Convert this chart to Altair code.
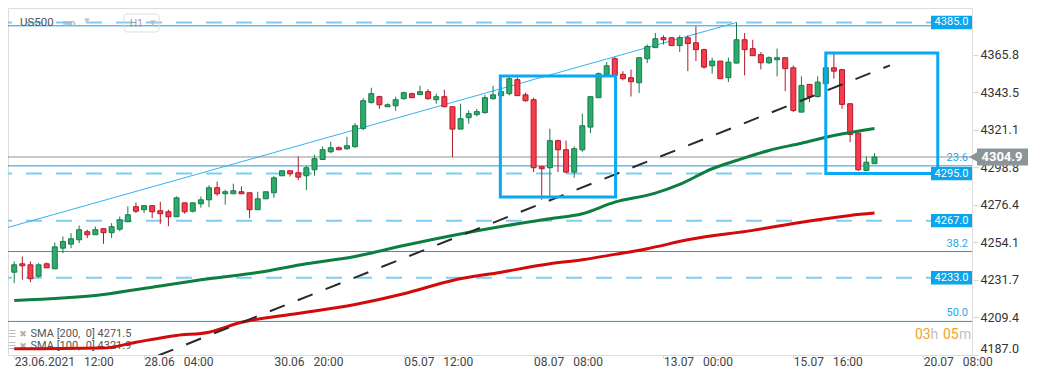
import altair as alt
import pandas as pd

# ---------------- data ----------------
opens = [4236.3, 4241.3, 4240.7, 4233.9, 4241.3, 4238.3, 4250.6, 4253.0, 4255.6, 4260.4,
         4258.6, 4262.2, 4259.8, 4261.9, 4266.3, 4275.3, 4273.5, 4275.9, 4272.9, 4272.3,
         4269.3, 4277.6, 4272.6, 4277.0, 4279.4, 4286.6, 4283.0, 4283.0, 4284.2, 4283.6,
         4273.5, 4280.0, 4283.6, 4293.7, 4296.7, 4295.5, 4293.7, 4297.3, 4303.4, 4308.0,
         4310.4, 4309.8, 4311.0, 4321.9, 4337.4, 4340.8, 4334.8, 4335.4, 4339.6, 4342.6,
         4342.0, 4343.8, 4339.0, 4340.8, 4334.8, 4321.5, 4328.3, 4330.1, 4331.3, 4339.6,
         4341.4, 4342.6, 4350.9, 4341.9, 4339.0, 4299.1, 4298.5, 4314.6, 4309.2, 4295.9,
         4309.2, 4322.7, 4340.2, 4353.9, 4363.4, 4354.1, 4352.1, 4349.1, 4363.4, 4370.0,
         4375.9, 4375.9, 4371.2, 4375.9, 4372.9, 4368.8, 4359.2, 4362.0, 4352.1, 4360.8,
         4374.7, 4369.4, 4365.8, 4361.0, 4362.8, 4364.0, 4358.0, 4331.6, 4348.1, 4340.9,
         4348.5, 4358.0, 4356.9, 4336.6, 4319.1, 4296.9, 4300.9]
highs = [4242.7, 4245.7, 4242.7, 4241.7, 4242.1, 4254.0, 4257.6, 4259.5, 4264.1, 4261.6,
         4263.5, 4262.2, 4265.5, 4269.5, 4275.5, 4277.8, 4275.9, 4275.9, 4278.2, 4273.5,
         4281.4, 4277.6, 4277.6, 4281.4, 4288.1, 4290.2, 4285.4, 4289.0, 4287.4, 4283.6,
         4284.2, 4284.2, 4293.5, 4296.7, 4296.7, 4305.2, 4299.7, 4306.2, 4311.2, 4314.0,
         4311.2, 4316.9, 4325.1, 4339.9, 4346.1, 4341.4, 4336.8, 4340.8, 4343.8, 4343.2,
         4347.3, 4345.3, 4342.6, 4344.9, 4334.8, 4336.6, 4332.6, 4333.6, 4341.9, 4347.3,
         4346.9, 4352.5, 4352.3, 4343.2, 4340.2, 4299.4, 4321.7, 4315.2, 4314.6, 4311.2,
         4330.7, 4340.8, 4355.2, 4361.4, 4364.4, 4356.0, 4356.9, 4364.0, 4371.9, 4378.7,
         4377.3, 4375.9, 4377.3, 4377.3, 4382.7, 4369.4, 4364.0, 4362.0, 4364.0, 4385.0,
         4378.7, 4374.7, 4367.4, 4364.8, 4369.4, 4364.0, 4359.4, 4352.9, 4348.1, 4352.9,
         4358.0, 4366.7, 4356.9, 4336.6, 4319.1, 4305.2, 4307.2]
lows = [4229.8, 4231.8, 4230.4, 4233.0, 4238.9, 4238.3, 4247.6, 4250.6, 4253.6, 4256.6,
        4258.6, 4253.2, 4256.6, 4260.7, 4266.3, 4271.5, 4271.5, 4268.5, 4265.1, 4263.7,
        4269.3, 4271.1, 4271.9, 4274.7, 4275.0, 4281.8, 4276.5, 4283.0, 4283.0, 4268.5,
        4273.5, 4280.0, 4280.6, 4293.7, 4293.3, 4291.1, 4285.2, 4293.7, 4303.4, 4307.2,
        4309.2, 4309.2, 4310.4, 4320.7, 4336.6, 4333.6, 4334.8, 4332.4, 4339.0, 4340.2,
        4342.0, 4339.0, 4336.6, 4334.8, 4304.8, 4321.5, 4324.7, 4329.1, 4330.7, 4339.0,
        4341.4, 4341.6, 4341.4, 4337.8, 4295.9, 4279.4, 4281.0, 4295.9, 4295.3, 4292.5,
        4308.0, 4319.1, 4340.2, 4353.5, 4353.5, 4350.5, 4340.9, 4342.9, 4360.8, 4370.0,
        4371.9, 4371.2, 4367.4, 4356.0, 4362.0, 4357.5, 4354.5, 4351.5, 4349.5, 4360.8,
        4353.5, 4365.2, 4357.0, 4360.3, 4352.9, 4344.1, 4331.6, 4331.6, 4337.6, 4340.2,
        4348.5, 4351.5, 4333.6, 4313.7, 4296.5, 4296.5, 4300.9]
closes = [4240.7, 4240.1, 4232.4, 4240.7, 4238.9, 4251.4, 4254.6, 4256.2, 4261.6, 4258.6,
          4261.6, 4259.8, 4263.4, 4267.5, 4270.5, 4272.6, 4275.9, 4272.3, 4271.1, 4269.3,
          4280.6, 4272.3, 4277.6, 4279.4, 4286.6, 4283.0, 4284.2, 4284.8, 4283.0, 4273.5,
          4280.0, 4284.2, 4292.5, 4296.7, 4294.9, 4292.9, 4298.5, 4303.9, 4309.2, 4310.4,
          4309.2, 4311.6, 4323.5, 4338.4, 4342.6, 4336.0, 4336.0, 4339.0, 4343.2, 4340.2,
          4343.8, 4339.6, 4340.8, 4334.8, 4321.5, 4327.7, 4330.7, 4331.9, 4340.2, 4341.9,
          4343.8, 4351.5, 4341.4, 4338.4, 4298.5, 4297.9, 4314.6, 4309.2, 4295.9, 4309.8,
          4323.5, 4340.8, 4354.5, 4359.2, 4353.5, 4351.5, 4349.7, 4364.0, 4370.7, 4375.3,
          4374.7, 4371.2, 4375.9, 4372.4, 4368.8, 4358.4, 4362.0, 4351.5, 4361.4, 4374.7,
          4368.8, 4365.2, 4361.0, 4364.0, 4364.0, 4357.5, 4332.6, 4347.5, 4340.9, 4349.5,
          4358.0, 4356.0, 4336.2, 4318.3, 4297.3, 4301.8, 4304.9]

sma100_idx = [0, 11, 17, 24, 30, 36, 42, 48, 54, 60, 66, 70, 74, 79, 82, 86, 89, 93, 97, 101, 106]
sma100_val = [4219.5, 4223.0, 4227.4, 4232.4, 4236.1, 4241.3, 4245.7, 4252.2, 4258.2, 4263.5,
              4268.1, 4271.1, 4278.0, 4283.4, 4288.6, 4297.9, 4302.8, 4308.8, 4313.1, 4317.7, 4321.9]
sma200_idx = [0, 11, 15, 20, 24, 28, 34, 42, 48, 54, 60, 66, 70, 74, 78, 83, 91, 97, 103, 106]
sma200_val = [4190.7, 4191.1, 4194.6, 4198.6, 4200.6, 4206.5, 4211.1, 4217.1, 4223.5, 4231.4,
              4236.3, 4241.3, 4243.7, 4246.9, 4250.3, 4255.6, 4261.2, 4266.1, 4270.1, 4271.5]

channel_idx = [-0.89, 89.0]
channel_val = [4262.8, 4385.0]
trend_idx = [17.75, 107.9]
trend_val = [4186.7, 4359.4]

level_vals = [4385.0, 4295.0, 4267.0, 4233.0]
level_text = ["4385.0", "4295.0", "4267.0", "4233.0"]
fib_vals = [4383.0, 4299.6, 4248.6, 4207.0]
fib_text = ["", "23.6", "38.2", "50.0"]
last_price = [4304.9]

box_i1 = [59.9, 100.0]
box_i2 = [74.1, 113.8]
box_lo = [4281.0, 4295.0]
box_hi = [4353.1, 4366.8]

x_ticks = [0, 16, 32, 48, 64, 80, 96, 112]
NB = "\u00a0\u00a0\u00a0"
x_tick_labels = ["23.06.2021" + NB + "12:00", "28.06" + NB + "04:00", "30.06" + NB + "20:00",
                 "05.07" + NB + "12:00", "08.07" + NB + "08:00", "13.07" + NB + "00:00",
                 "15.07" + NB + "16:00", "20.07" + NB + "08:00"]
y_ticks = [4187.0, 4209.4, 4231.7, 4254.1, 4276.4, 4298.8, 4321.1, 4343.5, 4365.8]

legend_rows = ["SMA [200,\u00a0 0] 4271.5", "SMA [100,\u00a0 0] 4321.9"]

# ---------------- tables ----------------
candles = pd.DataFrame({"i": list(range(len(opens))), "o": opens, "h": highs, "l": lows, "c": closes})
candles["dir"] = ["up" if c >= o else "down" for o, c in zip(opens, closes)]

W, H = 964, 347
XD = [-0.15, 117.4]
YD = [4187.0, 4393.6]

label_expr = "[" + ",".join("'" + s + "'" for s in x_tick_labels) + "][round(datum.value/16)]"

x_axis = alt.Axis(values=x_ticks, labelExpr=label_expr, labelAlign="left", labelFlush=False,
                  labelOverlap=False, domain=False, grid=False, tickSize=3, tickColor="#d4d4d4",
                  labelColor="#444444", labelFontSize=12, labelPadding=-2, title=None)
y_axis = alt.Axis(orient="right", values=y_ticks, format=".1f", domain=False, grid=False,
                  tickSize=5, tickColor="#d4d4d4", labelColor="#333333", labelFontSize=12.5,
                  labelPadding=2, labelFlush=True, offset=1, title=None)


def X(field):
    return alt.X(field, type="quantitative", scale=alt.Scale(domain=XD, nice=False, zero=False), axis=x_axis)


def Y(field):
    return alt.Y(field, type="quantitative", scale=alt.Scale(domain=YD, nice=False, zero=False), axis=y_axis)


def ptext(txt, x, y, **kw):
    return alt.Chart(pd.DataFrame({"t": [txt]})).mark_text(**kw).encode(
        text="t:N", x=alt.value(x), y=alt.value(y))


layers = []

# horizontal levels
lv = pd.DataFrame({"v": level_vals, "t": level_text})
layers.append(alt.Chart(lv).mark_rule(color="#7fcdf4", strokeWidth=2, strokeDash=[16, 14]).encode(y=Y("v")))
fb = pd.DataFrame({"v": fib_vals, "t": fib_text})
layers.append(alt.Chart(fb).mark_rule(color="#1b9ad8", strokeWidth=1).encode(y=Y("v")))
lp = pd.DataFrame({"v": last_price})
layers.append(alt.Chart(lp).mark_rule(color="#8a9396", strokeWidth=1).encode(y=Y("v")))

# upper channel line
ch = pd.DataFrame({"i": channel_idx, "v": channel_val})
layers.append(alt.Chart(ch).mark_line(color="#33b3ef", strokeWidth=1, clip=True).encode(x=X("i"), y=Y("v")))

# legend texts (under the red SMA)
layers.append(ptext("\u2630", 4, 325.5, font="DejaVu Sans", fontSize=9, color="#b0b0b0", align="center", baseline="middle"))
layers.append(ptext("\u2716", 15, 325.5, font="DejaVu Sans", fontSize=9, color="#b0b0b0", align="center", baseline="middle"))
layers.append(ptext(legend_rows[0], 22.5, 325.5, font="Roboto", fontSize=11, color="#555555", align="left", baseline="middle"))
layers.append(ptext("\u2630", 4, 338, font="DejaVu Sans", fontSize=9, color="#b0b0b0", align="center", baseline="middle"))
layers.append(ptext("\u2716", 15, 338, font="DejaVu Sans", fontSize=9, color="#b0b0b0", align="center", baseline="middle"))
layers.append(ptext(legend_rows[1], 22.5, 338, font="Roboto", fontSize=11, color="#555555", align="left", baseline="middle"))

# candles
dir_dom = ["up", "down"]
layers.append(alt.Chart(candles).mark_rule(strokeWidth=1).encode(
    x=X("i"), y=Y("l"), y2="h",
    color=alt.Color("dir:N", scale=alt.Scale(domain=dir_dom, range=["#1b7b47", "#b3192b"]), legend=None)))
layers.append(alt.Chart(candles).mark_bar(size=5, strokeWidth=1).encode(
    x=X("i"), y=Y("o"), y2="c",
    fill=alt.Fill("dir:N", scale=alt.Scale(domain=dir_dom, range=["#2bab6d", "#f53d4c"]), legend=None),
    stroke=alt.Stroke("dir:N", scale=alt.Scale(domain=dir_dom, range=["#1b7b47", "#b3192b"]), legend=None)))

# moving averages
s200 = pd.DataFrame({"i": sma200_idx, "v": sma200_val})
s100 = pd.DataFrame({"i": sma100_idx, "v": sma100_val})
layers.append(alt.Chart(s200).mark_line(color="#d20a0a", strokeWidth=3, interpolate="monotone").encode(x=X("i"), y=Y("v")))
layers.append(alt.Chart(s100).mark_line(color="#0e7e40", strokeWidth=3, interpolate="monotone").encode(x=X("i"), y=Y("v")))

# dashed trend line
tr = pd.DataFrame({"i": trend_idx, "v": trend_val})
layers.append(alt.Chart(tr).mark_line(color="#2a2a2a", strokeWidth=2, strokeDash=[16, 14], clip=True).encode(x=X("i"), y=Y("v")))

# blue boxes
bx = pd.DataFrame({"a": box_i1, "b": box_i2, "lo": box_lo, "hi": box_hi})
layers.append(alt.Chart(bx).mark_rect(fillOpacity=0, stroke="#08a8f2", strokeWidth=3).encode(
    x=X("a"), x2="b", y=Y("lo"), y2="hi"))

# level label boxes
layers.append(alt.Chart(lv).transform_calculate(lo="datum.v - 4.0", hi="datum.v + 4.0").mark_rect(color="#0aa5ec").encode(
    x=alt.value(923), x2=alt.value(964), y=Y("lo"), y2="hi"))
layers.append(alt.Chart(lv).mark_text(color="white", fontSize=11, font="Roboto", align="center", baseline="middle").encode(
    x=alt.value(943.5), y=Y("v"), text="t:N"))

# fib labels
layers.append(alt.Chart(fb).mark_text(color="#2aa7e4", fontSize=11, font="Roboto", align="right", baseline="middle", dy=-8).encode(
    x=alt.value(960), y=Y("v"), text="t:N"))

# last price tag
lp2 = pd.DataFrame({"v": last_price, "t": ["4304.9"]})
layers.append(alt.Chart(lp2).transform_calculate(lo="datum.v - 5.0", hi="datum.v + 5.0").mark_rect(color="#8b9598").encode(
    x=alt.value(969), x2=alt.value(1020), y=Y("lo"), y2="hi"))
layers.append(alt.Chart(lp2).mark_point(shape="triangle-left", filled=True, size=190, color="#8b9598", opacity=1).encode(
    x=alt.value(967), y=Y("v")))
layers.append(alt.Chart(lp2).mark_text(color="white", fontSize=13, font="Roboto", fontWeight="bold", align="center", baseline="middle").encode(
    x=alt.value(994), y=Y("v"), text="t:N"))

# header
layers.append(ptext("US500", 12, 15, font="Roboto", fontSize=11.5, color="#555555", align="left", baseline="middle"))
layers.append(ptext("IND", 55, 15.5, font="Roboto", fontSize=7.5, fontWeight="bold", color="#a9b0b8", align="left", baseline="middle"))
layers.append(ptext("\u25bc", 79, 12.5, font="DejaVu Sans", fontSize=7, color="#c4c4c4", align="center", baseline="middle"))
layers.append(alt.Chart(pd.DataFrame({"t": ["H1"]})).mark_rect(fillOpacity=0, stroke="#dddddd", strokeWidth=1, cornerRadius=3).encode(
    x=alt.value(116), x2=alt.value(151), y=alt.value(6), y2=alt.value(24)))
layers.append(ptext("H1", 122, 15.5, font="Roboto", fontSize=10, color="#9a9a9a", align="left", baseline="middle"))
layers.append(ptext("\u25bc", 145, 15, font="DejaVu Sans", fontSize=7, color="#bbbbbb", align="center", baseline="middle"))

# countdown
layers.append(ptext("03", 907, 327, font="Roboto", fontSize=14, color="#f5a21f", align="left", baseline="middle"))
layers.append(ptext("h", 922.5, 327, font="Roboto", fontSize=14, color="#c2c2c2", align="left", baseline="middle"))
layers.append(ptext("05", 935, 327, font="Roboto", fontSize=14, color="#f5a21f", align="left", baseline="middle"))
layers.append(ptext("m", 951, 327, font="Roboto", fontSize=14, color="#c2c2c2", align="left", baseline="middle"))

chart = alt.layer(*layers).properties(
    width=W, height=H,
    autosize=alt.AutoSizeParams(type="none"),
    padding={"left": 0, "top": 0, "right": 60, "bottom": 17},
).configure_view(strokeWidth=0).configure(font="Roboto", background="white")

chart.save("out.html", embed_options={"renderer": "svg", "actions": False})
